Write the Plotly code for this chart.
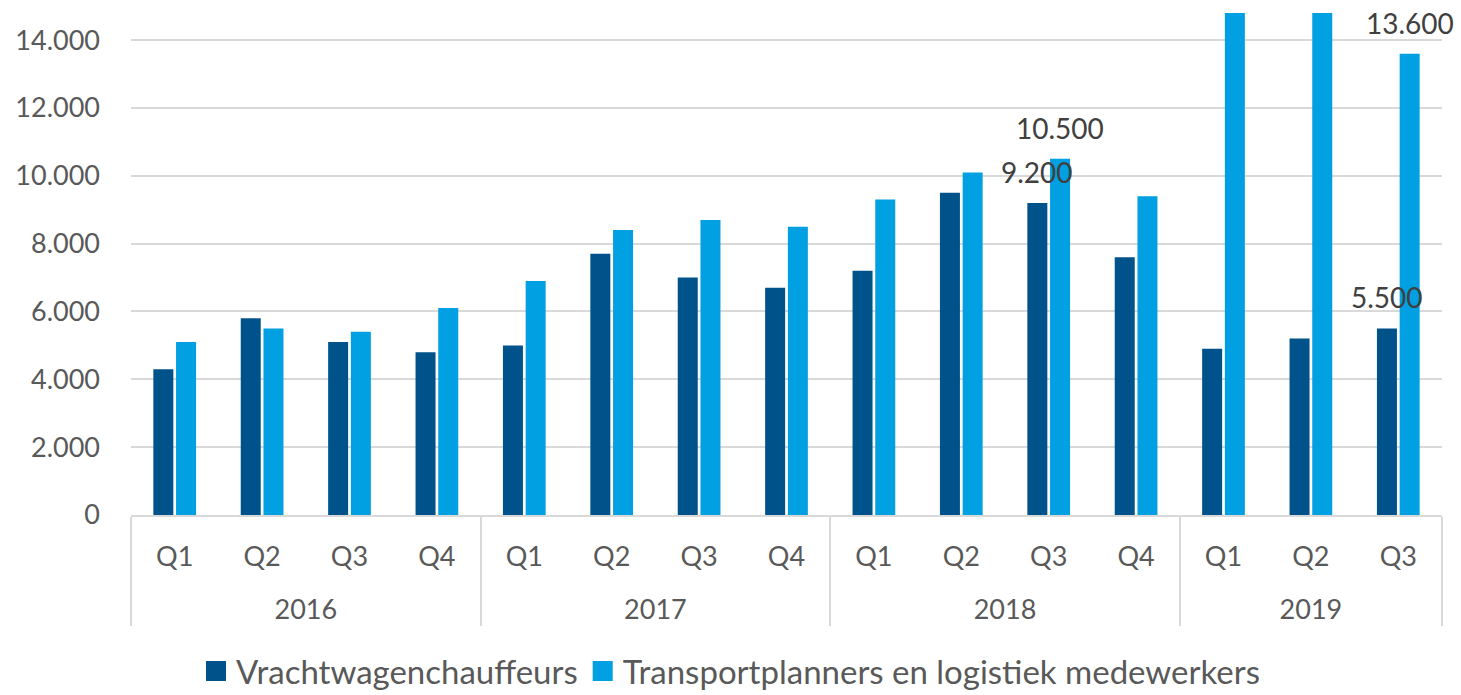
import plotly.graph_objects as go

years = ["2016"] * 4 + ["2017"] * 4 + ["2018"] * 4 + ["2019"] * 3
quarters = ["Q1", "Q2", "Q3", "Q4", "Q1", "Q2", "Q3", "Q4", "Q1", "Q2", "Q3", "Q4", "Q1", "Q2", "Q3"]
chauffeurs = [4300, 5800, 5100, 4800, 5000, 7700, 7000, 6700, 7200, 9500, 9200, 7600, 4900, 5200, 5500]
planners = [5100, 5500, 5400, 6100, 6900, 8400, 8700, 8500, 9300, 10100, 10500, 9400, 15500, 16000, 13600]
chauffeurs_labels = ["", "", "", "", "", "", "", "", "", "", "9.200", "", "", "", "5.500"]
planners_labels = ["", "", "", "", "", "", "", "", "", "", "10.500", "", "", "", "13.600"]
series_names = ["Vrachtwagenchauffeurs", "Transportplanners en logistiek medewerkers"]
y_ticks = [0, 2000, 4000, 6000, 8000, 10000, 12000, 14000]

FONT = "Lato, 'Open Sans', sans-serif"
COLORS = ["#00538a", "#00a0e3"]
BARGAP = 0.48
GROUPGAP = 0.12

# year labels pushed one line lower, as in the reference
year_labels = ["<br>" + y for y in years]

fig = go.Figure()
for vals, name, col in ((chauffeurs, series_names[0], COLORS[0]),
                        (planners, series_names[1], COLORS[1])):
    fig.add_trace(go.Bar(x=[year_labels, quarters], y=vals, name=name,
                         marker_color=col, marker_line_width=0,
                         cliponaxis=True, showlegend=False))

# legend entries with larger square symbols
for name, col in zip(series_names, COLORS):
    fig.add_trace(go.Scatter(x=[[year_labels[0]], [quarters[0]]], y=[None], mode="markers",
                             name=name,
                             marker=dict(symbol="square", size=21, color=col,
                                         line=dict(color=col, width=4)),
                             showlegend=True, hoverinfo="skip"))

# data labels as annotations (drawn on top of all bars)
slot = (1 - BARGAP) / 2
for series, labels, offset in ((chauffeurs, chauffeurs_labels, -slot / 2),
                               (planners, planners_labels, slot / 2)):
    for i, (v, lab) in enumerate(zip(series, labels)):
        if lab:
            fig.add_annotation(x=i + offset, y=v, xref="x", yref="y", text=lab,
                               showarrow=False, yanchor="bottom", yshift=12,
                               font=dict(size=28, color="#404040", family=FONT))

fig.update_layout(
    width=1461, height=695,
    margin=dict(l=131, r=19, t=13, b=180, autoexpand=False),
    plot_bgcolor="white", paper_bgcolor="white",
    barmode="group", bargap=BARGAP, bargroupgap=GROUPGAP,
    separators=",.",
    font=dict(family=FONT, size=27, color="#595959"),
    showlegend=True,
    legend=dict(orientation="h", x=0.5, xanchor="center", xref="container",
                y=1 - 671 / 695, yanchor="middle", yref="container",
                font=dict(size=33, color="#595959"), itemsizing="trace",
                traceorder="normal", itemwidth=30, tracegroupgap=0),
)
fig.update_yaxes(range=[0, 14800], tickvals=y_ticks, tickformat=",d",
                 showgrid=True, gridcolor="#d9d9d9", gridwidth=1.5,
                 zeroline=False, showline=False, ticklabelstandoff=30,
                 tickfont=dict(size=27, color="#595959"), automargin=False)
fig.update_xaxes(type="multicategory", range=[-0.5, len(quarters) - 0.5],
                 showline=True, linecolor="#d9d9d9", linewidth=1.5,
                 showdividers=True, dividercolor="#d9d9d9", dividerwidth=1.5,
                 tickfont=dict(size=27, color="#595959"), ticks="",
                 ticklabelstandoff=17, automargin=False)

fig.write_html("out.html")
